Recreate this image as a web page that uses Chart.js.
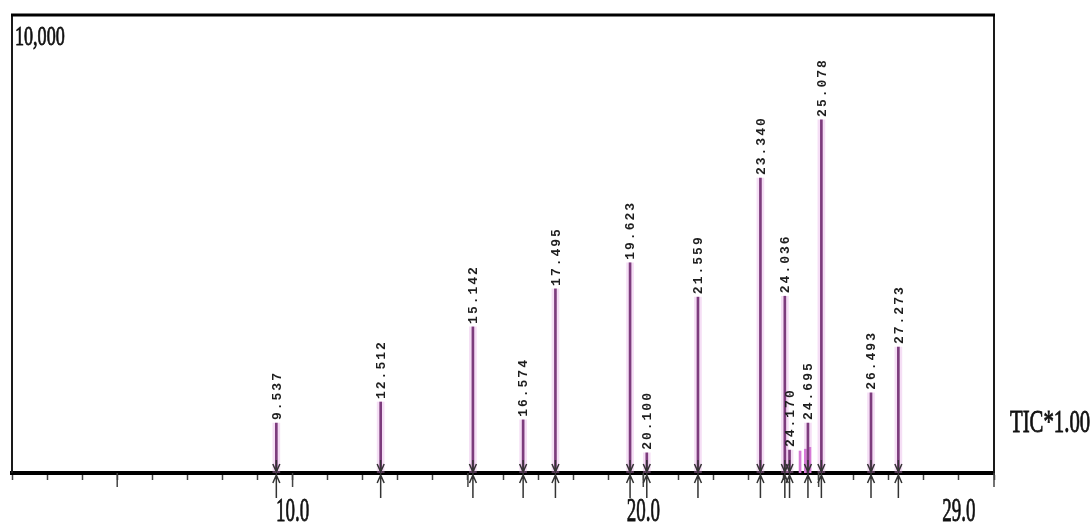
<!DOCTYPE html>
<html>
<head>
<meta charset="utf-8">
<script src="https://cdn.jsdelivr.net/npm/chart.js@4/dist/chart.umd.min.js"></script>
<style>
html, body { margin: 0; padding: 0; background: #fff; }
#wrap { width: 1091px; height: 523px; }
</style>
</head>
<body>
<div id="wrap"><canvas id="c" width="1091" height="523"></canvas></div>
<script>
// labelled peaks: retention time (min) and height (counts)
const peakTimes = [9.537, 12.512, 15.142, 16.574, 17.495, 19.623, 20.100, 21.559,
                   23.340, 24.036, 24.170, 24.695, 25.078, 26.493, 27.273];
const peakHeights = [1090, 1550, 3190, 1160, 4020, 4590, 440, 3840,
                     6440, 3860, 500, 1090, 7710, 1750, 2750];
// small unlabelled peaks in the 24-25 min cluster
const minorTimes = [24.47, 24.62, 24.75];
const minorHeights = [480, 520, 560];
const xTickLabels = [10, 20, 29];
const yMaxLabel = '10,000';
const scaleLabel = 'TIC*1.00';

const peakData = peakTimes.map((t, i) => ({ x: t, y: peakHeights[i] }));
const minorData = minorTimes.map((t, i) => ({ x: t, y: minorHeights[i] }));

// narrow serif text, like the scanned print
function condText(ctx, txt, x, y, size, sx, align) {
    ctx.save();
    ctx.translate(x, y);
    ctx.scale(sx, 1);
    ctx.font = size + 'px "Liberation Serif"';
    ctx.fillStyle = '#111';
    ctx.strokeStyle = '#111';
    ctx.lineWidth = 0.8;
    ctx.textAlign = align;
    ctx.textBaseline = 'alphabetic';
    ctx.fillText(txt, 0, 0);
    ctx.strokeText(txt, 0, 0);
    ctx.restore();
}

const decor = {
    id: 'decor',
    afterDatasetsDraw(chart) {
        const { ctx, chartArea: a, scales: { x, y } } = chart;
        const base = y.getPixelForValue(0);
        ctx.save();

        // frame
        ctx.strokeStyle = '#1a1a1a';
        ctx.lineWidth = 2;
        ctx.beginPath();
        ctx.moveTo(a.left, base);
        ctx.lineTo(a.left, a.top);
        ctx.moveTo(a.right, a.top);
        ctx.lineTo(a.right, base);
        ctx.stroke();
        ctx.lineWidth = 3;
        ctx.strokeStyle = '#000';
        ctx.beginPath();
        ctx.moveTo(a.left - 1, a.top);
        ctx.lineTo(a.right + 1, a.top);
        ctx.stroke();

        // longer ticks every 5 min
        ctx.lineWidth = 1.5;
        ctx.strokeStyle = '#444';
        x.ticks.forEach(t => {
            if (t.value % 5 === 0) {
                const px = x.getPixelForValue(t.value);
                ctx.beginPath();
                ctx.moveTo(px, base);
                ctx.lineTo(px, base + 14);
                ctx.stroke();
            }
        });

        // peak markers and labels
        peakTimes.forEach((t, i) => {
            const px = x.getPixelForValue(t);
            const top = y.getPixelForValue(peakHeights[i]);
            ctx.strokeStyle = '#333';
            ctx.lineWidth = 1.5;
            ctx.beginPath();
            ctx.moveTo(px, base - 13);
            ctx.lineTo(px, base + 25);
            ctx.moveTo(px - 3.5, base - 9);
            ctx.lineTo(px, base - 1);
            ctx.lineTo(px + 3.5, base - 9);
            ctx.moveTo(px - 3.5, base + 10);
            ctx.lineTo(px, base + 2);
            ctx.lineTo(px + 3.5, base + 10);
            ctx.stroke();

            ctx.save();
            ctx.translate(px + 1, top - 3);
            ctx.rotate(-Math.PI / 2);
            ctx.font = 'bold 13px "Liberation Mono"';
            ctx.letterSpacing = '2px';
            ctx.fillStyle = '#1e1e1e';
            ctx.textAlign = 'left';
            ctx.textBaseline = 'middle';
            ctx.fillText(t.toFixed(3), 0, 0);
            ctx.restore();
        });

        // texts
        condText(ctx, yMaxLabel, a.left + 3, a.top + 30, 27, 0.67, 'left');
        condText(ctx, scaleLabel, 1010, 432, 31, 0.67, 'left');
        xTickLabels.forEach(v => {
            condText(ctx, v.toFixed(1), x.getPixelForValue(v), 521, 34, 0.56, 'center');
        });
        ctx.restore();
    }
};

new Chart(document.getElementById('c'), {
    type: 'bar',
    data: {
        datasets: [
            { data: peakData, backgroundColor: 'rgba(225,160,225,0.35)', barThickness: 7, grouped: false, order: 3 },
            { data: minorData, backgroundColor: '#d77ad7', barThickness: 2, grouped: false, order: 2 },
            { data: peakData, backgroundColor: '#7d3c7d', barThickness: 2, grouped: false, order: 1 }
        ]
    },
    plugins: [decor],
    options: {
        responsive: false,
        animation: false,
        layout: { padding: { left: 12, right: 97, top: 15, bottom: 43 } },
        plugins: { legend: { display: false }, tooltip: { enabled: false } },
        scales: {
            x: {
                type: 'linear',
                min: 2,
                max: 30,
                offset: false,
                ticks: { display: false, stepSize: 1 },
                grid: { offset: false, drawOnChartArea: false, tickLength: 7, tickColor: '#444', tickWidth: 1.5 },
                border: { color: '#000', width: 4 }
            },
            y: {
                min: 0,
                max: 10000,
                display: false
            }
        }
    }
});
</script>
</body>
</html>
